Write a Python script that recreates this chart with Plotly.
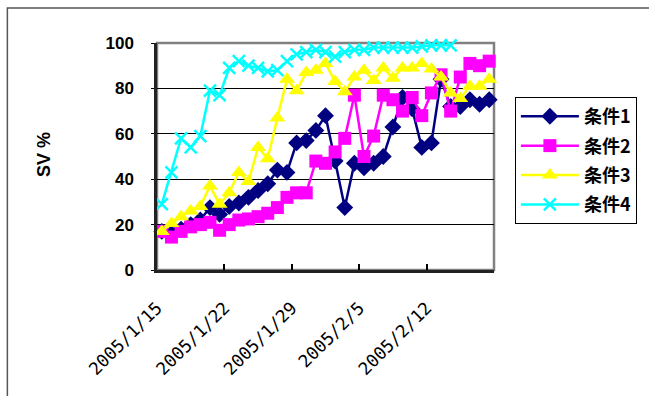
import pandas as pd
import plotly.graph_objects as go

# Daily observations starting 2005/1/15
start_date = "2005-01-15"

cond1 = [17, 16, 18, 20, 22, 27.5, 24.5, 28, 29.5, 32, 35, 38, 44, 43, 56, 57, 61.5, 68,
         48, 27.5, 47, 45, 47, 50, 63, 76, 71, 54, 56, 84, 72, 72, 75, 73, 75]
cond2 = [17, 14.5, 17, 19, 20, 21, 17.5, 20, 22, 22.5, 23.5, 25, 27.5, 32, 34, 34, 48, 47,
         52, 58, 77, 50, 59, 77, 75, 70, 76, 68, 78, 86, 70, 85, 91, 90, 92]
cond3 = [17, 20.5, 23.5, 26, 28, 37, 29, 34, 43, 39, 54, 49, 67, 84, 79, 87, 88, 91,
         83, 78.5, 85, 88, 83.5, 89, 84.5, 89, 89, 91, 88.5, 85, 78, 75.5, 81, 81, 84]
cond4 = [29, 43, 58, 54, 59, 79, 77, 89, 92, 90, 89, 87.5, 88, 92, 95, 96, 97, 96,
         94, 96, 97, 97, 98, 98, 98, 98, 98, 98.5, 99, 99, 99]

series_names = ["条件1", "条件2", "条件3", "条件4"]
series_values = [cond1, cond2, cond3, cond4]
series_colors = ["#000080", "#FF00FF", "#FFFF00", "#00FFFF"]
series_symbols = ["diamond", "square", "triangle-up", "x-thin"]
series_sizes = [13, 13, 14, 12]

tick_labels = ["2005/1/15", "2005/1/22", "2005/1/29", "2005/2/5", "2005/2/12"]
y_ticks = [0, 20, 40, 60, 80, 100]
y_title = "SV %"

# each day's point sits in the middle of its day cell
days = pd.date_range(start_date, periods=35, freq="D")
centers = days + pd.Timedelta(hours=12)
tick_dates = pd.date_range(start_date, periods=len(tick_labels), freq="7D")

FONT = "Liberation Sans, Arial, sans-serif"
MONO = "DejaVu Sans Mono, monospace"
CJK = "Noto Sans CJK JP, sans-serif"

fig = go.Figure()
for name, vals, col, sym, sz in zip(series_names, series_values, series_colors,
                                    series_symbols, series_sizes):
    marker = dict(symbol=sym, size=sz, color=col, line=dict(width=0, color=col))
    if sym == "x-thin":
        marker["line"] = dict(width=2.5, color=col)
    fig.add_trace(go.Scatter(
        x=centers[:len(vals)], y=vals, name=name, legendgroup=name,
        mode="lines+markers", line=dict(color=col, width=2.5),
        marker=marker, cliponaxis=False,
    ))

fig.update_layout(
    width=649, height=396,
    margin=dict(l=157, r=152, t=43, b=126),
    paper_bgcolor="white", plot_bgcolor="white",
    font=dict(family=FONT, size=15, color="black"),
    showlegend=True,
    legend=dict(
        x=1.062, y=0.762, xanchor="left", yanchor="top",
        bordercolor="black", borderwidth=1, bgcolor="white",
        font=dict(family=CJK, size=18, color="black", weight="bold"),
        itemwidth=58, tracegroupgap=3,
    ),
    xaxis=dict(
        type="date", range=[days[0], days[-1] + pd.Timedelta(days=1)],
        tickmode="array", tickvals=tick_dates, ticktext=tick_labels,
        tickangle=-45, ticks="inside", ticklen=6, tickcolor="black", tickwidth=1.5,
        showline=True, linecolor="#222", linewidth=2.5, showgrid=False,
        tickfont=dict(family=MONO, size=17.5, color="black"),
        ticklabelstandoff=18, automargin=False,
        zeroline=False,
    ),
    yaxis=dict(
        range=[0, 100], tickmode="array", tickvals=y_ticks,
        ticks="outside", ticklen=3, tickcolor="black",
        showline=True, linecolor="#222", linewidth=2.5,
        showgrid=True, gridcolor="black", gridwidth=1, zeroline=False,
        tickfont=dict(family=FONT, size=17, color="black", weight="bold"),
        ticklabelstandoff=14, automargin=False,
    ),
    annotations=[
        dict(text=y_title, xref="paper", yref="paper", x=-0.335, y=0.507,
             xanchor="center", yanchor="middle", textangle=-90, showarrow=False,
             font=dict(family=FONT, size=18, color="black", weight="bold")),
    ],
    shapes=[
        # plot-area frame
        dict(type="rect", xref="paper", yref="paper", x0=0, x1=1, y0=0, y1=1,
             line=dict(color="#808080", width=2.5), layer="between"),
        # outer chart frame
        dict(type="rect", xref="paper", yref="paper", x0=-0.444, x1=1.6, y0=-0.7, y1=1.154,
             line=dict(color="#555555", width=1.5), layer="below"),
    ],
)

fig.write_html("out.html")
